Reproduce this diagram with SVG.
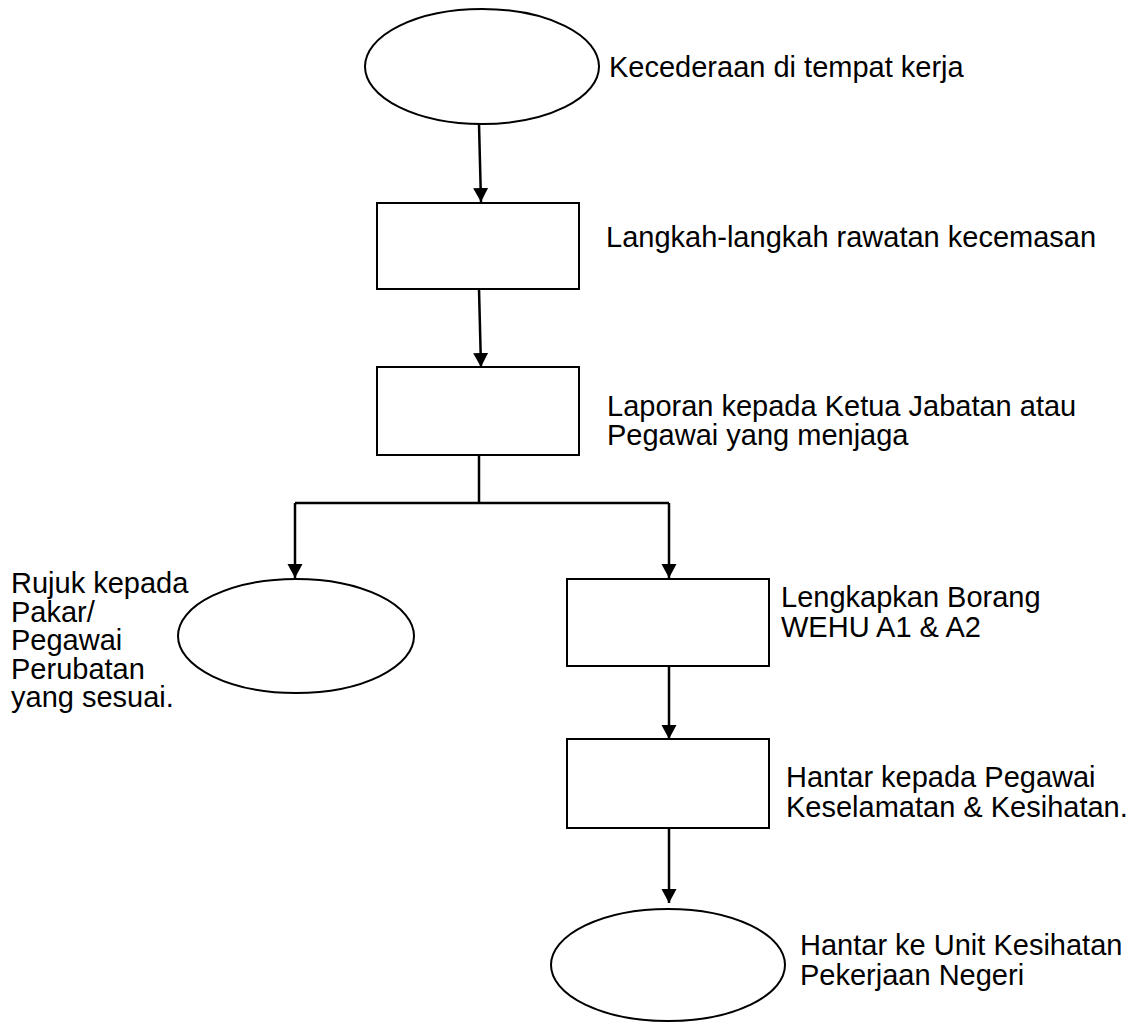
<svg xmlns="http://www.w3.org/2000/svg" width="1138" height="1023" viewBox="0 0 1138 1023">
<style>
.shape{fill:#fff;stroke:#000;stroke-width:2}
.conn{fill:none;stroke:#000;stroke-width:2.5}
.lbl{font-family:"Liberation Sans",Arial,sans-serif;font-size:29px;fill:#000}
</style>
<defs>
<marker id="arr" markerUnits="userSpaceOnUse" markerWidth="16" markerHeight="16" viewBox="0 0 16 16" refX="14" refY="8" orient="auto">
<path d="M0,0.5 L14,8 L0,15.5 Z" fill="#000"/>
</marker>
</defs>
<rect width="1138" height="1023" fill="#fff"/>
<g id="connectors">
<line class="conn" x1="479" y1="124" x2="481" y2="202" marker-end="url(#arr)"/>
<line class="conn" x1="479" y1="289" x2="481" y2="367" marker-end="url(#arr)"/>
<polyline class="conn" points="479,455 479,503"/>
<polyline class="conn" points="295,503 669,503"/>
<line class="conn" x1="295" y1="503" x2="295" y2="578" marker-end="url(#arr)"/>
<line class="conn" x1="669" y1="503" x2="669" y2="578" marker-end="url(#arr)"/>
<line class="conn" x1="669" y1="666" x2="669" y2="739" marker-end="url(#arr)"/>
<line class="conn" x1="669" y1="828" x2="669" y2="903" marker-end="url(#arr)"/>
</g>
<g id="n-kecederaan">
<ellipse class="shape" cx="482" cy="66.5" rx="117" ry="57.5"/>
<text class="lbl" x="609" y="77">Kecederaan di tempat kerja</text>
</g>
<g id="n-langkah">
<rect class="shape" x="377" y="203" width="202" height="86"/>
<text class="lbl" x="606" y="247">Langkah-langkah rawatan kecemasan</text>
</g>
<g id="n-laporan">
<rect class="shape" x="377" y="367" width="202" height="88"/>
<text class="lbl" x="607" y="416">Laporan kepada Ketua Jabatan atau</text>
<text class="lbl" x="607" y="445">Pegawai yang menjaga</text>
</g>
<g id="n-rujuk">
<ellipse class="shape" cx="296" cy="636" rx="118" ry="57"/>
<text class="lbl" x="11" y="593">Rujuk kepada</text>
<text class="lbl" x="11" y="622">Pakar/</text>
<text class="lbl" x="11" y="650">Pegawai</text>
<text class="lbl" x="11" y="679">Perubatan</text>
<text class="lbl" x="11" y="707">yang sesuai.</text>
</g>
<g id="n-lengkapkan">
<rect class="shape" x="567" y="579" width="202" height="87"/>
<text class="lbl" x="781" y="607">Lengkapkan Borang</text>
<text class="lbl" x="781" y="637">WEHU A1 &amp; A2</text>
</g>
<g id="n-hantar-pegawai">
<rect class="shape" x="567" y="739" width="202" height="89"/>
<text class="lbl" x="786" y="787">Hantar kepada Pegawai</text>
<text class="lbl" x="786" y="817">Keselamatan &amp; Kesihatan.</text>
</g>
<g id="n-hantar-unit">
<ellipse class="shape" cx="668" cy="965" rx="117" ry="56"/>
<text class="lbl" x="800" y="955">Hantar ke Unit Kesihatan</text>
<text class="lbl" x="800" y="985">Pekerjaan Negeri</text>
</g>
</svg>
